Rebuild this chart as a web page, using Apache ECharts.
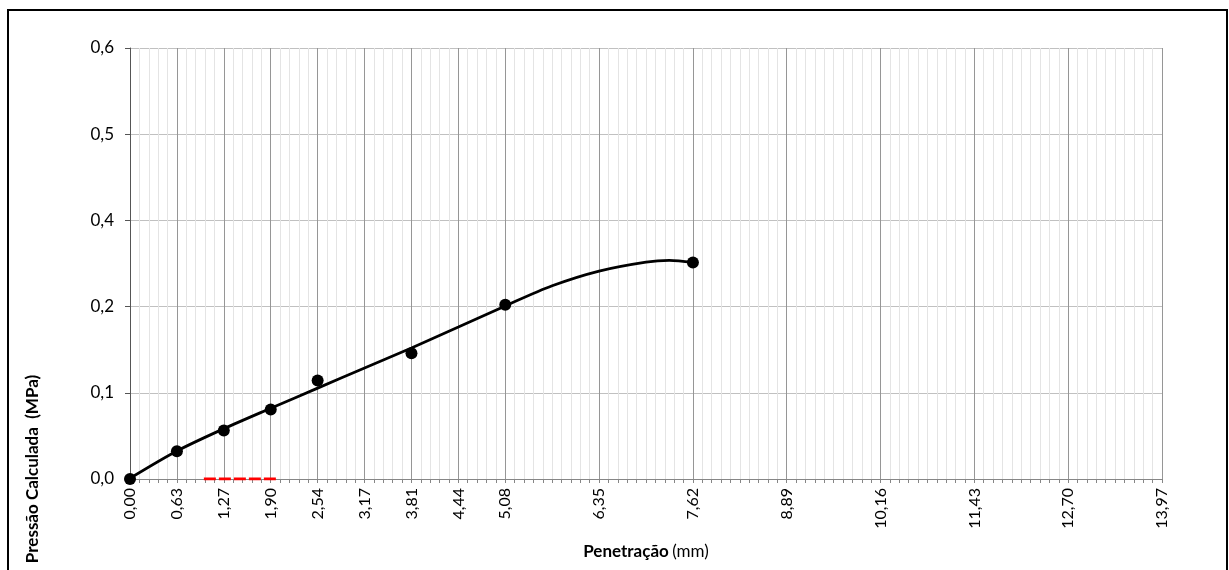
<!DOCTYPE html>
<html>
<head>
<meta charset="utf-8">
<script src="https://cdn.jsdelivr.net/npm/echarts@6/dist/echarts.min.js"></script>
<style>
html,body{margin:0;padding:0;background:#fff;}
#c{width:1229px;height:570px;}
</style>
</head>
<body>
<div id="c"></div>
<script>
// Measured points (penetration mm, pressure MPa)
const pointsX = [0.00, 0.635, 1.27, 1.905, 2.54, 3.81, 5.08, 7.62];
const pointsY = [0.000, 0.0387, 0.0675, 0.0968, 0.1371, 0.1751, 0.2425, 0.3014];

// Trend curve
const curveX = [0.00, 0.635, 1.27, 1.905, 2.54, 3.175, 3.81, 4.445, 5.08, 5.715, 6.35, 6.985, 7.30, 7.62];
const curveY = [0.001, 0.039, 0.070, 0.0985, 0.1265, 0.1545, 0.1825, 0.2115, 0.2410, 0.2690, 0.2895, 0.3020, 0.3045, 0.3017];

// Red dashed segment
const redX = [1.0, 2.0];
const redY = [0.0, 0.0];

// Tick labels
const xTickValues = [0, 0.635, 1.27, 1.905, 2.54, 3.175, 3.81, 4.445, 5.08, 6.35, 7.62, 8.89, 10.16, 11.43, 12.70, 13.97];
const xTickLabels = ['0,00','0,63','1,27','1,90','2,54','3,17','3,81','4,44','5,08','6,35','7,62','8,89','10,16','11,43','12,70','13,97'];
const yTickLabels = ['0,0','0,1','0,2','0,4','0,5','0,6'];

const FONT = 'Lato, "Noto Sans", sans-serif';
const xMin = 0, xMax = 13.97, xStep = 0.127;
const yMin = 0, yMax = 0.6, yStep = 0.12;
const nLines = Math.round((xMax - xMin) / xStep) + 1;
const vColors = [];
for (let i = 0; i < nLines; i++) {
  const v = xMin + i * xStep;
  const isMajor = xTickValues.some(t => Math.abs(t - v) < 1e-6);
  vColors.push(isMajor ? '#969696' : '#e4e4e4');
}
function labelFor(v) {
  for (let i = 0; i < xTickValues.length; i++) {
    if (Math.abs(xTickValues[i] - v) < 1e-6) return xTickLabels[i];
  }
  return '';
}

const chart = echarts.init(document.getElementById('c'));
chart.setOption({
  animation: false,
  backgroundColor: '#fff',
  grid: {left: 130, right: 67, top: 48, bottom: 91},
  xAxis: {
    type: 'value', min: xMin, max: xMax, interval: xStep,
    name: '{b|Penetração} {n|(mm)}',
    nameLocation: 'middle', nameGap: 64,
    nameTextStyle: {rich: {
      b: {fontFamily: FONT, fontSize: 17, fontWeight: 'bold', color: '#000'},
      n: {fontFamily: FONT, fontSize: 17, color: '#000'}
    }},
    axisLine: {onZero: false, lineStyle: {color: '#868686', width: 1}},
    axisTick: {show: true, length: 4, inside: false, lineStyle: {color: '#868686'}},
    axisLabel: {rotate: 90, margin: 9, fontFamily: FONT, fontSize: 16, color: '#000',
      formatter: v => labelFor(v), showMinLabel: true, showMaxLabel: true, hideOverlap: false},
    splitLine: {show: true, lineStyle: {color: vColors, width: 1}},
    minorTick: {show: false},
    minorSplitLine: {show: false}
  },
  yAxis: {
    type: 'value', min: yMin, max: yMax, interval: yStep,
    axisLine: {show: true, lineStyle: {color: '#555', width: 1}},
    axisTick: {show: true, length: 5, lineStyle: {color: '#555'}},
    axisLabel: {margin: 16, fontFamily: FONT, fontSize: 17, color: '#000',
      formatter: (v) => yTickLabels[Math.round(v / yStep)]},
    splitLine: {show: true, lineStyle: {color: '#c0c0c0', width: 1}}
  },
  graphic: [
    {type: 'rect', shape: {x: 8, y: 10, width: 1219, height: 580},
     style: {fill: 'none', stroke: '#000', lineWidth: 2}, silent: true, z: 100},
    {type: 'text', x: 33, y: 469, rotation: Math.PI / 2,
     style: {text: 'Pressão Calculada  (MPa)', font: 'bold 17px ' + FONT, fill: '#000',
       textAlign: 'center', textVerticalAlign: 'middle'}, z: 100}
  ],
  series: [
    {type: 'line', data: redX.map((x, i) => [x, redY[i]]), symbol: 'none',
     lineStyle: {color: '#ff0000', width: 3, type: [12, 3], cap: 'butt'}, z: 3},
    {type: 'line', data: curveX.map((x, i) => [x, curveY[i]]), symbol: 'none', smooth: 0.3,
     lineStyle: {color: '#000', width: 2.75}, z: 4},
    {type: 'scatter', data: pointsX.map((x, i) => [x, pointsY[i]]), symbol: 'circle', symbolSize: 12,
     itemStyle: {color: '#000', opacity: 1}, z: 5}
  ]
});
</script>
</body>
</html>
